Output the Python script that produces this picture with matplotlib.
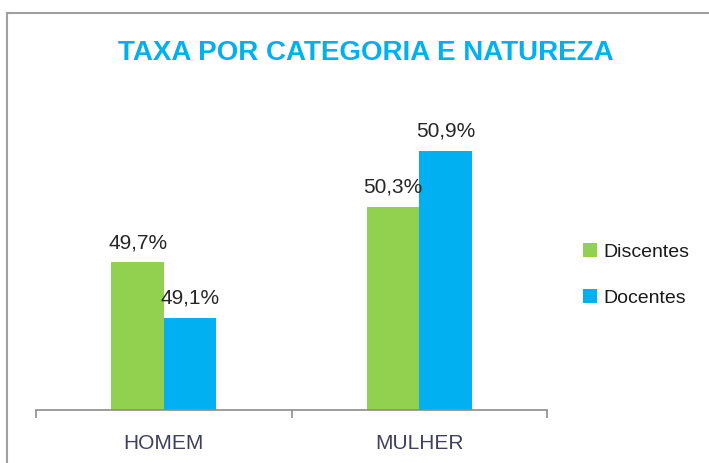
import matplotlib
matplotlib.use('Agg')
from matplotlib import pyplot as plt
from matplotlib.lines import Line2D
from matplotlib.patches import Patch
import numpy as np

# data
categories = ['HOMEM', 'MULHER']
discentes = [49.7, 50.3]
docentes = [49.1, 50.9]
series_names = ['Discentes', 'Docentes']

green = '#92D050'
blue = '#00B0F0'
font = ['Liberation Sans', 'DejaVu Sans']

plt.rcParams['font.family'] = font

fig = plt.figure(figsize=(7.09, 4.63), dpi=100)
ax = fig.add_axes([0.0508, 0.1145, 0.7207, 0.680])

x = np.arange(len(categories))
w = 0.205
b1 = ax.bar(x - w / 2, discentes, w, color=green, label=series_names[0])
b2 = ax.bar(x + w / 2, docentes, w, color=blue, label=series_names[1])

for bars, vals in ((b1, discentes), (b2, docentes)):
    for r, v in zip(bars, vals):
        ax.text(r.get_x() + r.get_width() / 2, v + 0.11,
                f'{v:.1f}%'.replace('.', ','), ha='center', va='bottom',
                fontsize=15, color='#262626')

ax.set_xlim(-0.5, 1.5)
ax.set_ylim(48.11, 51.5)
ax.set_yticks([])
for s in ['left', 'right', 'top']:
    ax.spines[s].set_visible(False)
ax.spines['bottom'].set_color('#8C8C8C')
ax.spines['bottom'].set_linewidth(1.2)

# category boundary ticks and centered labels
ax.set_xticks([-0.5, 0.5, 1.5])
ax.set_xticklabels([])
ax.tick_params(axis='x', which='major', length=5.5, color='#8C8C8C', width=1.2)
ax.set_xticks(x, minor=True)
ax.set_xticklabels(categories, minor=True)
ax.tick_params(axis='x', which='minor', length=0, pad=17, labelsize=15,
               labelcolor='#3F3F5F')

fig.text(0.516, 0.886, 'TAXA POR CATEGORIA E NATUREZA', ha='center',
         va='center', fontsize=20, fontweight='bold', color=blue)

handles = [Patch(facecolor=green), Patch(facecolor=blue)]
fig.legend(handles, series_names, loc='center left',
           bbox_to_anchor=(0.797, 0.406), frameon=False, fontsize=14,
           handlelength=0.75, handleheight=0.75, handletextpad=0.3,
           labelspacing=1.45, labelcolor='#1A1A1A')

# outer chart frame (only left and top edges visible)
fig.add_artist(Line2D([0.0099, 0.0099], [0.0, 0.9719], color='#A0A0A0',
                      lw=1.5, transform=fig.transFigure))
fig.add_artist(Line2D([0.0099, 1.0], [0.9719, 0.9719], color='#A0A0A0',
                      lw=1.5, transform=fig.transFigure))

fig.savefig('out.png', dpi=100)
